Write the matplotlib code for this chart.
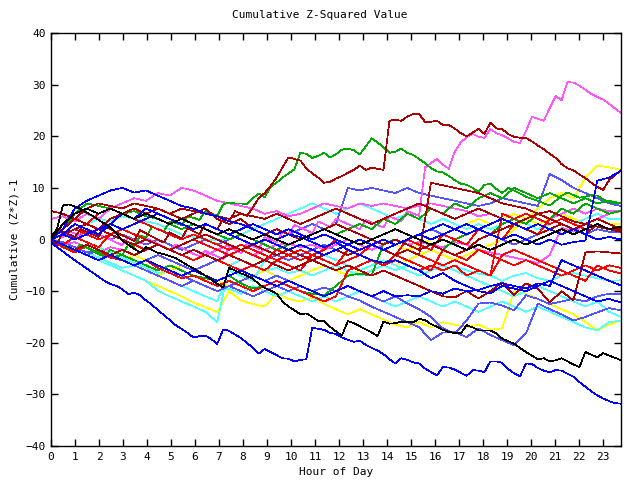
import numpy as np
import matplotlib
matplotlib.use("Agg")
import matplotlib.pyplot as plt

# colours seen in the chart
BLUE = "#0000ff"
RED = "#ff0000"
DKRED = "#aa0000"
GREEN = "#00aa00"
MAGENTA = "#ff55ff"
CYAN = "#55ffff"
YELLOW = "#ffff00"
SLATE = "#5555ff"
BLACK = "#000000"

# main traces, one value every 15 minutes
magenta_top = [0.0, 0.8, 0.4, 1.6, 1.2, 0.7, 2.0, 1.6, 1.0, 0.5, 0.0, -0.6, -1.1, 0.3, -0.2, -0.8,
               0.2, -0.3, -0.9, -1.5, -2.0, -1.0, -1.6, -2.2, -2.8, -3.2, -2.2, -2.8, -3.3, -3.8, -1.5, -2.0,
               -2.6, -0.8, -1.3, -1.8, 0.5, 0.0, -0.5, 1.5, 1.0, 2.8, 2.3, 1.8, 1.2, 3.5, 3.0, 2.4,
               4.0, 3.5, 3.0, 2.5, 2.0, 3.8, 3.3, 2.8, 2.3, 4.5, 4.0, 3.5, 5.5, 5.0, 4.6, 14.0,
               14.8, 15.6, 14.5, 13.7, 17.0, 18.8, 19.8, 20.5, 19.9, 19.7, 21.4, 20.6, 20.2, 19.6, 18.9, 18.7,
               21.0, 23.8, 23.4, 23.0, 25.5, 27.8, 27.0, 30.5, 30.4, 29.8, 29.0, 28.2, 27.6, 27.1, 26.3, 25.4, 24.5]

dkred_top = [0.0, -1.0, 1.5, 1.0, 0.5, 2.0, 1.5, 1.0, 0.5, 2.5, 2.0, 1.4, 0.8, 0.3, -0.3, 1.8,
             1.2, 0.6, 0.0, -0.6, 1.4, 0.8, 0.2, 2.2, 1.6, 1.0, 3.0, 2.5, 2.0, 4.0, 3.5, 5.5,
             5.0, 4.6, 6.2, 8.1, 9.0, 10.4, 12.0, 14.0, 15.9, 15.6, 15.3, 13.8, 12.8, 12.0, 11.0, 11.2,
             11.8, 12.3, 12.9, 13.5, 14.3, 13.5, 13.9, 13.7, 13.5, 23.0, 23.2, 23.0, 23.8, 24.3, 24.3, 22.8,
             22.8, 23.0, 22.2, 22.2, 21.5, 20.6, 20.0, 20.7, 21.4, 20.5, 22.6, 21.5, 21.4, 20.4, 19.9, 19.7,
             19.7, 19.0, 18.2, 17.5, 16.6, 15.8, 14.6, 13.8, 13.4, 12.6, 11.9, 11.0, 10.2, 9.6, 11.5, 12.5, 13.4]

green_top = [0.0, -0.5, -1.0, -1.6, -2.2, -1.0, -1.6, -2.2, -2.8, -3.3, -2.0, -2.5, -3.0, -1.0, -1.4, 0.8,
             0.4, 2.5, 2.0, 1.6, 3.5, 3.2, 2.8, 4.5, 4.2, 3.8, 5.5, 5.0, 4.6, 6.8, 7.2, 7.0,
             7.0, 6.8, 8.0, 8.9, 8.2, 10.2, 11.0, 12.0, 12.8, 13.6, 16.8, 16.6, 15.8, 16.2, 16.8, 15.9,
             16.5, 17.4, 17.6, 17.3, 16.5, 18.0, 19.6, 18.8, 17.9, 16.8, 17.0, 17.6, 16.8, 16.4, 15.6, 14.8,
             13.8, 13.2, 13.0, 12.3, 11.5, 10.8, 10.6, 10.0, 9.2, 10.6, 10.8, 9.8, 9.0, 10.0, 9.5, 8.9,
             8.3, 7.9, 7.5, 7.0, 6.6, 7.5, 8.5, 9.1, 8.6, 8.1, 8.3, 8.6, 8.5, 7.8, 7.2, 7.1, 7.0]

blue_low = [-0.5, -1.5, -2.3, -3.2, -4.0, -4.8, -5.6, -6.4, -7.2, -8.0, -8.6, -9.0, -9.6, -10.6, -10.3, -10.8,
            -11.8, -12.6, -13.7, -14.6, -15.6, -16.6, -17.3, -18.1, -19.0, -18.7, -18.6, -19.3, -20.2, -17.4, -17.7, -18.4,
            -19.1, -20.0, -21.0, -22.1, -21.2, -21.8, -22.4, -23.0, -23.1, -23.6, -23.3, -23.2, -17.1, -17.3, -17.5, -18.1,
            -18.3, -19.0, -19.4, -19.8, -19.6, -20.4, -21.0, -21.5, -22.2, -23.2, -24.0, -23.0, -23.3, -23.8, -24.0, -25.0,
            -25.7, -26.3, -24.7, -24.8, -25.2, -25.8, -26.4, -25.3, -25.4, -25.7, -23.6, -23.6, -23.9, -25.1, -25.9, -26.5,
            -24.0, -24.1, -24.9, -25.4, -25.7, -25.3, -25.4, -26.0, -26.6, -27.6, -28.5, -29.4, -30.2, -30.8, -31.3, -31.7, -31.8]

black_low = [0.5, 2.0, 6.6, 6.8, 6.4, 5.9, 5.2, 4.6, 3.8, 3.1, 2.3, 1.2, -0.2, -1.0, -1.8, -2.5,
             -1.5, -2.0, -2.6, -2.8, -3.2, -3.6, -4.3, -5.0, -5.6, -6.3, -7.0, -7.8, -8.6, -9.3, -5.5, -6.0,
             -6.6, -7.0, -7.6, -8.6, -9.4, -9.9, -10.5, -12.0, -13.0, -13.7, -14.5, -14.3, -15.0, -15.8, -15.8, -16.9,
             -17.8, -18.6, -15.8, -16.2, -16.8, -17.4, -18.0, -18.7, -15.9, -16.3, -16.2, -15.9, -16.0, -16.0, -15.4, -15.6,
             -16.4, -16.9, -17.5, -17.9, -18.1, -18.2, -16.6, -17.0, -17.6, -17.6, -17.6, -18.2, -19.2, -19.7, -20.2, -21.0,
             -21.8, -22.5, -23.2, -23.0, -23.6, -23.4, -23.0, -23.6, -24.2, -24.7, -21.8, -22.3, -22.8, -22.0, -22.5, -22.9, -23.4]

# other traces, one value every 30 minutes
red_1 = [0, -1, 0.5, -0.5, -1.5, 1, 0, -1, -2, -1, -2, -3, -4, -3, -4, -5, -6, -5, -6, -4, -5, -6, -3, -4, -5,
         -2, -3, -1, -2, -3, 0, -1, -2, 1, 0, -1, 2, 1, 0, 3, 2, 1, 4, 3, 2, 1, 3, 2, 2.5]
red_2 = [0, -1.5, -2.5, -1, -2, -3.5, -4, -5, -4, -5.5, -6.5, -7.5, -7, -8, -9, -8, -9, -10, -9, -8, -9, -10, -11, -12, -11,
         -6, -5, -4, -5, -3, -4, -5, -6, -2, -3, -4, -2, -3, -4, -5, -4, -5, -6, -7, -6, -5, -6, -5, -5.5]
red_3 = [1, 2, 4, 3, 5, 6, 5, 4, 3, 2, 1, 0, 1, 0, -1, -2, -1, -2, -3, -4, -3, -2, -3, -4, -5,
         -4, -3, -4, -5, -4, -5, -6, -5, -6, -5, -7, -6, -7, -3, -2, -3, -4, -5, -6, -7, -8, -5, -6, -6.6]
red_4 = [0, 1, 2, 1, 0, 1, 2, 1, 0, -1, -2, -1, 0, -1, -2, -3, -2, -3, -4, -2, -3, -4, -3, -2, 0,
         -1, -2, -1, -2, -3, -2, -3, -4, -5, -4, -5, -6, -7, 5, 4, 5, 4, 3, 4, 3, 2, 3, 2, 1.7]
dkred_1 = [5.5, 5, 4, 3, 2, 1, 0, -1, 0, -1, -2, -3, -2, -3, -4, -3, -4, -5, -4, -5, -6, -5, -4, -5, -6,
           -5, -6, -7, -6, -7, -8, -9, -10, -11, -11.2, -10, -11.4, -10, -8.3, -10.8, -8.5, -9.5, -12.2, -10, -11.8, -2.5, -2.3, -2.5, -2.7]
dkred_2 = [0, 1, 2, 3, 2, 4, 5, 6, 5, 6, 5, 4, 5, 6, 4, 3, 4, 2, 1, 2, 1, 0, 1, 2, 3,
           2, 1, 0, -1, 0, -1, -2, -1, -2, -3, -2, 0, 1, 2, 3, 2, 1, 2, 3, 2, 1, 3, 2, 2]
dkred_3 = [0, -1, -2, -1, -2, -3, -2, -3, -2, -1, -2, -1, 0, 1, 0, -1, -2, -1, -2, -3, -2, -3, -4, -3, -2,
           -3, -2, -1, -2, -3, -2, -3, 11, 10.5, 10, 9.5, 9, 8, 7, 6.5, 6, 5, 5.5, 4.5, 3.5, 3, 2.5, 2, 1.5]
dkred_4 = [0, 2, 4, 6, 7, 6.5, 6, 7, 6.5, 6, 5, 6, 5.5, 5, 4.5, 4, 5, 4.5, 4, 5, 4, 3, 4, 5, 6,
           5, 4, 3, 4, 5, 6, 7, 6, 5, 4, 5, 6, 5, 4, 3, 4, 5, 4, 3, 2, 3, 4, 3, 2]
green_2 = [0, -1, -2, -1.5, -2.5, -3.5, -3, -4, -5, -6, -5, -6, -7, -7.5, -8, -7, -8.5, -9.5, -9, -8, -9, -10, -10.5, -10.8, -9,
           -7, -6.6, -7, -0.8, 0, -1, -2, -1, -2, 0, 1, 2, 1, 3, 4, 3, 5, 4, 6, 5, 7, 6, 5, 5.6]
green_3 = [0, 2, 5, 7, 6.5, 6, 5, 5.5, 4.5, 4, 3, 2, 3, 2, 1, 0, 1, 0, -1, -2, -1, 0, 1, 2, 1,
           2, 3, 2, 4, 3, 5, 4, 6, 5, 7, 6, 8, 9, 8, 10, 9, 8, 9, 8, 7, 8, 7, 7.5, 7]
magenta_2 = [4, 4.5, 3.5, 5, 4, 6, 7, 8, 7.5, 9, 8.5, 10, 9.5, 8.5, 7.5, 7, 6.5, 6, 5, 5.5, 4.5, 5, 6, 7, 6.5,
             6, 7, 6.5, 7, 6.5, 6, 6.5, 7, 6.5, 6, 5.5, 4.5, 5, 4, 3, 4, 5, 4, 5, 6, 5, 6, 5.5, 5.5]
magenta_3 = [0, -1, -0.5, -1.5, -2.5, -1.5, -2, -3, -2, -1, -2, -3, -4, -3, -2, -1, -2, -3, -2, -1, -0.8, -1.5, -1, -2, -1,
             0, -1, -2, -1, 0, -1, -0.5, -1, -1.5, -0.5, -1, -2, -2.5, -3, -3.5, -4, -4.6, -3, 2.3, 1.5, 3, 4, 5, 5.5]
cyan_1 = [0, -1, -2, -3, -4, -5, -6, -7, -8, -9.9, -11, -12, -13, -14, -16, -5, -4, -5, -6, -5.5, -6.5, -6, -7, -6, -5,
          -6, -7, -6, -5, -6, -5, -6, -5.4, -6, -5, -6, -6.6, -7, -8, -7, -6.5, -7.5, -8, -7, -6.5, -7, -7.5, -8, -7.9]
cyan_2 = [0, -1, 0.5, -0.5, -1.5, -2.5, -3.5, -4.5, -5.5, -6.5, -6, -7, -8, -9, -10, -9.5, -10.5, -9, -10, -11, -10, -11, -12, -11, -12,
          -11, -10, -11, -12, -13, -12, -11, -12, -13, -12, -13, -14, -13, -12, -13, -14, -13, -14, -15, -16, -17, -17.6, -16, -15.7]
cyan_3 = [0, 1, 2, 3, 4, 3.5, 4.5, 4, 3.5, 3, 2, 1, 0.5, 0, -0.2, 0, 1, 2, 3, 4, 5, 6, 7, 6, 5,
          6, 7, 6, 5, 4, 5, 4, 3, 4, 3, 2, 3, 2, 3, 4, 3, 2, 3, 4, 3, 4, 5, 4, 4]
cyan_4 = [0, -0.5, -1.5, -2.5, -3.5, -4.5, -5.5, -5, -6, -7, -8, -9, -10, -11, -12, -6, -7, -8, -4, -5, -6, -5, -4, -3, -4,
          -5, -6, -5, -4, -5, -6, -7, -6, -5, -6, -7, -8, -9, -10, -11, -10, -9, -10, -11, -12, -13, -12, -14, -15]
yellow_1 = [0, -1, -2, -3, -4, -5, -6, -7, -8, -9, -10, -11, -12.2, -13.1, -14.1, -10, -11.8, -12.5, -13, -10.4, -11.5, -12, -11.2, -12.5, -13.5,
            -14.5, -13.5, -14.5, -15.5, -16.5, -17, -16, -17, -16, -16.5, -17, -16.5, -17.5, -17.2, -10, -10.5, -11.5, -12.5, -13.5, -14.5, -16, -17.5, -16.5, -15.7]
yellow_2 = [0, -1, -2, -1, -2, -3, -4, -3, -4, -5, -6, -7, -6, -7, -8, -9, -8, -7, -6, -7, -8, -7, -6, -5, -6,
            -7, -6, -5, -4, -5, -4, -3, -2, -3, -4, -3, -2, -1, 0, 2, 4, 6, 8, 9, 8, 12, 14.3, 14, 13.5]
yellow_3 = [0, -1, -2, -3, -2, -3, -4, -5, -6, -7, -6, -5, -6, -7, -8, -7, -6, -5, -4, -3, -2, -3, -4, -3, -2,
            -1, -2, -1, 0, -1, -2, -1, 0, 1, 2, 3, 4, 3, 4, 5, 4, 3, 4, 5, 4, 3, 4, 3, 3]
slate_1 = [0, -1, -2, -3, -2, -3, -4, -5, -4, -5, -6, -7, -8, -9, -10, -9, -10, -11, -10, -9, -10, -9, -10, -9.3, -10,
           -11, -11.8, -13, -14, -15, -16, -17, -19.5, -18, -17.9, -18.9, -17.2, -18.5, -19.5, -20.5, -18.2, -12.4, -13.5, -14.5, -15.7, -15, -14.1, -13.3, -13.7]
slate_2 = [0, -1, -2, -1, -2, -3, -4, -5, -6, -7, -8, -9, -8, -9, -10, -9, -8, -7, -8, -7, -8, -9, -10, -11, -10,
           -9, -10, -11, -12, -11, -12.4, -13.5, -15, -17.2, -18.2, -15.7, -12.4, -12.2, -12.8, -13.7, -10.8, -11.5, -12.5, -12, -11.5, -12, -11, -10.5, -10.5]
slate_3 = [0, 1, 0.5, 1.5, 1, 0, 1, 0, -1, 0, -1, -2, -1, 0, -1, 0, 1, 0, 1, 2, 1, 2, 3, 2, 3,
           10, 9.5, 10, 9.5, 9, 10, 9, 8.5, 8, 7.5, 7, 6.5, 7, 8, 7.5, 7, 6.5, 12.7, 11.5, 10, 9, 8, 7, 6.5]
slate_4 = [0, -0.5, -1.5, -2.5, -2, -3, -4, -5, -4, -3, -4, -5, -6, -5, -4, -5, -6, -5, -4, -3, -4, -3, -2, -1, -2,
           -1, 0, -1, -2, -1, 0, 1, 2, 1, 0, 1, 2, 1, 0, -1, 0, 1, 2, 1, 2, 1, 2, 1.5, 1.5]
blue_2 = [0, 2, 6, 7.5, 8.5, 9.5, 10, 9.1, 9.5, 8.5, 7.5, 6.5, 6, 5, 4.5, 3.5, 3, 2, 1, 0, 1, 0.5, -0.5, -1.5, -0.5,
          -2, -3, -4, -4.5, -4, -5, -6, -7.5, -6.5, -8, -9, -10, -10.4, -9, -9.5, -10, -9, -8, -9, -10, -11, -12, -11.5, -12.2]
blue_3 = [0, 1, 0, 1, 2, 3, 2, 3, 4, 5, 4, 3, 2, 3, 2, 1, 2, 3, 2, 1, 2, 1, 0, 1, 0,
          -1, 0, -1, -2, -1, 0, 1, 2, 3, 2, 1, 2, 1, 0, 1, 0, -1, 0, -1, -0.5, -0.2, 11.4, 12, 13.3]
blue_4 = [0, -1, -2, -3, -4, -3, -4, -5, -4, -5, -6, -7, -6, -7, -8, -7, -6, -7, -8, -9, -8, -9, -10, -11, -10,
          -9, -10, -11, -10, -11, -10.8, -11, -10, -10.5, -9.5, -10, -9.8, -9, -8.5, -9, -9.5, -8.5, -9, -4, -5, -6, -7, -8, -8.9]
blue_5 = [0, 1, 3, 2, 1, 3, 5, 4, 6, 5, 4, 3, 2, 3, 2, 1, 0, -1, 0, -1, -2, -1, -2, -3, -2,
          -1, -2, -1, 0, -1, 0, 1, 0, 1, 2, 3, 2, 3, 4, 3, 2, 3, 2, 1, 2, 1, 0, 0.5, 0]
black_2 = [0, 3, 5, 6, 5, 6, 5, 4, 5, 4, 3, 4, 3, 2, 1, 2, 1, 0, 1, 0, -1, 0, 1, 2, 1,
           0, -1, 0, 1, 2, 1, 0, -1, 0, -1, -2, -1, -2, -1, 0, -1, 0, 1, 2, 1, 2, 3, 2, 2.5]

series = [
    (yellow_1, YELLOW), (yellow_2, YELLOW), (yellow_3, YELLOW),
    (cyan_1, CYAN), (cyan_2, CYAN), (cyan_3, CYAN), (cyan_4, CYAN),
    (slate_1, SLATE), (slate_2, SLATE), (slate_3, SLATE), (slate_4, SLATE),
    (magenta_2, MAGENTA), (magenta_3, MAGENTA), (magenta_top, MAGENTA),
    (green_2, GREEN), (green_3, GREEN), (green_top, GREEN),
    (red_1, RED), (red_2, RED), (red_3, RED), (red_4, RED),
    (dkred_1, DKRED), (dkred_2, DKRED), (dkred_3, DKRED), (dkred_4, DKRED), (dkred_top, DKRED),
    (blue_2, BLUE), (blue_3, BLUE), (blue_4, BLUE), (blue_5, BLUE), (blue_low, BLUE),
    (black_2, BLACK), (black_low, BLACK),
]

hour_ticks = list(range(0, 24))
value_ticks = list(range(-40, 41, 10))
last_hour = 23.75

plt.rcParams['font.family'] = 'DejaVu Sans Mono'
fig = plt.figure(figsize=(6.4, 4.8), dpi=100)
ax = fig.add_axes([0.0797, 0.0708, 0.8906, 0.8604])

for vals, col in series:
    x = np.linspace(0, last_hour, len(vals))
    ax.plot(x, vals, color=col, linewidth=0.5, antialiased=False)

ax.set_xlim(0, last_hour)
ax.set_ylim(-40, 40)
ax.set_xticks(hour_ticks)
ax.set_yticks(value_ticks)
ax.tick_params(direction='in', top=True, right=True, length=5, width=1, labelsize=8, pad=4)
for s in ax.spines.values():
    s.set_linewidth(1)

ax.set_xlabel("Hour of Day", fontsize=8, labelpad=4)
ax.set_ylabel("Cumulative (Z*Z)-1", fontsize=8, labelpad=4)
fig.text(0.5, 0.968, "Cumulative Z-Squared Value", ha='center', va='center', fontsize=8)

fig.savefig("out.png", dpi=100)
